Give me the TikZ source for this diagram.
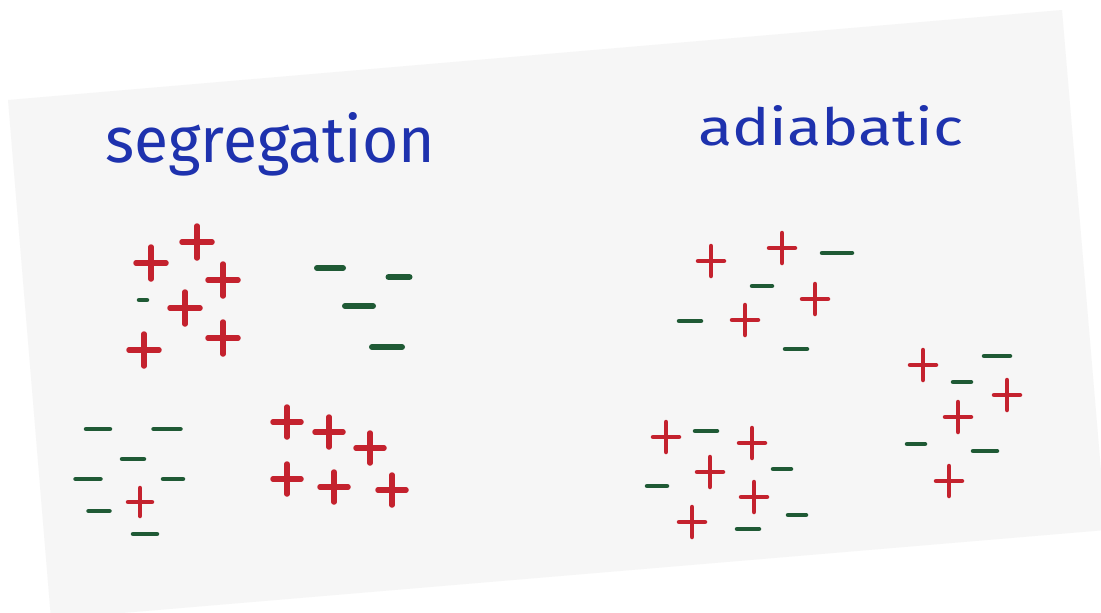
\documentclass[tikz,border=0pt]{standalone}
\usepackage{fontspec}
\setmainfont{Fira Sans}
\usepackage{graphicx}
\definecolor{ink}{HTML}{1E32AE}
\definecolor{redink}{HTML}{C4222E}
\definecolor{greenink}{HTML}{1F5A35}
\definecolor{paper}{HTML}{F6F6F6}
\begin{document}
\begin{tikzpicture}[x=1pt,y=-1pt,
  bigplus/.style={draw=redink,line width=5.5pt,line cap=round},
  smallplus/.style={draw=redink,line width=4.5pt,line cap=round},
  bigminus/.style={draw=greenink,line width=6pt,line cap=round},
  smallminus/.style={draw=greenink,line width=4.5pt,line cap=round},
  title/.style={anchor=base west,inner sep=0pt,text=ink}]
\useasboundingbox (0,0) rectangle (1101,613);
\fill[white] (0,0) rectangle (1101,613);
\fill[paper] (8,100) -- (1062,10) -- (1106,530) -- (51,619) -- cycle;

\node[title] (seg) at (105,162) {\resizebox{330pt}{50pt}{segregation}};
\node[title] (adi) at (698,145) {\resizebox{265pt}{40pt}{adiabatic}};

% segregation, upper left: positive cluster
\foreach \x/\y in {151/263,197/242,223/280,185/308,144/350,223/338}
  \draw[bigplus] (\x-15,\y) -- (\x+15,\y) (\x,\y-16) -- (\x,\y+16);
\draw[smallminus] (139,300) -- (147,300);
% segregation, upper right: negatives
\foreach \x/\y/\l in {330/268/26,399/277/21,359/306/28,387/347/30}
  \draw[bigminus] (\x-\l/2,\y) -- (\x+\l/2,\y);
% segregation, lower left: negatives
\foreach \x/\y/\l in {98/429/24,167/429/27,133/459/22,88/479/25,173/479/20,99/511/21,145/534/24}
  \draw[smallminus] (\x-\l/2,\y) -- (\x+\l/2,\y);
\foreach \x/\y in {140/502}
  \draw[smallplus] (\x-12,\y) -- (\x+12,\y) (\x,\y-14) -- (\x,\y+14);
% segregation, lower right: positives
\foreach \x/\y in {287/422,329/432,370/448,287/479,334/487,392/490}
  \draw[bigplus] (\x-14,\y) -- (\x+14,\y) (\x,\y-15) -- (\x,\y+15);

% adiabatic: mixed
\foreach \x/\y in {711/261,782/248,815/299,745/320,923/365,666/437,752/443,710/472,754/497,692/522,1007/395,958/417,949/481}
  \draw[smallplus] (\x-13,\y) -- (\x+13,\y) (\x,\y-15) -- (\x,\y+15);
\foreach \x/\y/\l in {837/253/30,762/286/20,690/321/22,796/349/22,997/356/26,706/431/22,782/469/18,657/486/20,797/515/18,748/529/22,962/382/18,916/444/18,985/451/24}
  \draw[smallminus] (\x-\l/2,\y) -- (\x+\l/2,\y);
\end{tikzpicture}
\end{document}
